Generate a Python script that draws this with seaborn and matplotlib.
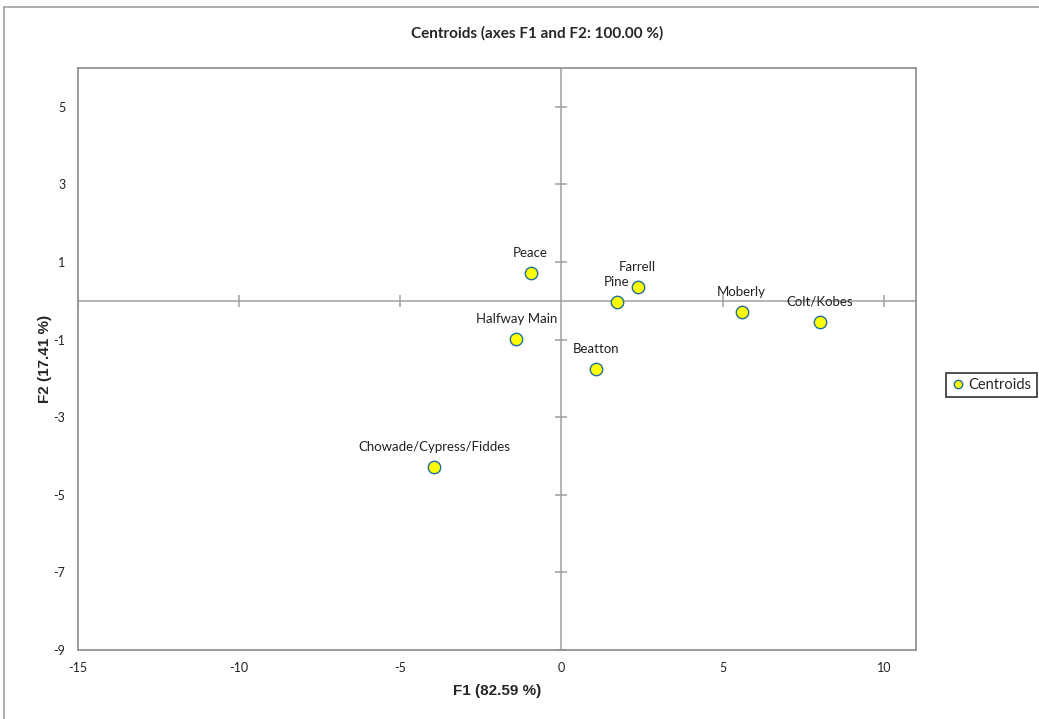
import matplotlib
matplotlib.use("Agg")
from matplotlib import pyplot as plt
from matplotlib.lines import Line2D
import seaborn as sns
import pandas as pd

# centroid coordinates
names = ["Peace", "Farrell", "Pine", "Moberly", "Colt/Kobes",
         "Halfway Main", "Beatton", "Chowade/Cypress/Fiddes"]
f1 = [-0.96, 2.36, 1.71, 5.59, 8.01, -1.40, 1.06, -3.94]
f2 = [0.72, 0.36, -0.03, -0.28, -0.54, -0.98, -1.75, -4.28]

x_ticks = [-15, -10, -5, 0, 5, 10]
y_ticks = [-9, -7, -5, -3, -1, 1, 3, 5]

df = pd.DataFrame({"name": names, "F1": f1, "F2": f2})

sns.set_style("white")
plt.rcParams["font.family"] = ["Lato", "DejaVu Sans"]
plt.rcParams["axes.unicode_minus"] = False

fig = plt.figure(figsize=(10.39, 7.19), dpi=100)
ax = fig.add_axes([0.0751, 0.096, 0.8065, 0.8094])

# axis lines through the origin
ax.axhline(0, color="#a0a0a0", lw=1.1, zorder=1)
ax.axvline(0, color="#a0a0a0", lw=1.1, zorder=1)
# little ticks on those lines
ax.plot([t for t in x_ticks if t != 0], [0] * (len(x_ticks) - 1), ls="none",
        marker="|", ms=9, mew=1.1, color="#a0a0a0", zorder=1)
ax.plot([0] * len(y_ticks), y_ticks, ls="none",
        marker="_", ms=9, mew=1.1, color="#a0a0a0", zorder=1)

sns.scatterplot(data=df, x="F1", y="F2", ax=ax, s=80, color="#ffff00",
                edgecolor="#1f6f9a", linewidth=1.0, zorder=3, legend=False)

for n, x, y in zip(names, f1, f2):
    ax.annotate(n, (x, y), xytext=(0, 14.5), textcoords="offset points",
                ha="center", va="center", fontsize=9.5, color="#222222")

ax.set_xlim(-15, 11)
ax.set_ylim(-9, 6)
ax.set_xticks(x_ticks)
ax.set_yticks(y_ticks)
ax.tick_params(length=0, labelsize=9, colors="#222222", pad=9)
for s in ax.spines.values():
    s.set_color("#8c8c8c")
    s.set_linewidth(1.2)

ax.set_xlabel("F1 (82.59 %)", fontsize=11, fontweight="bold",
              family=["Liberation Sans", "DejaVu Sans"], labelpad=7)
ax.set_ylabel("F2 (17.41 %)", fontsize=11, fontweight="bold",
              family=["Liberation Sans", "DejaVu Sans"], labelpad=1)

fig.text(0.517, 0.954, "Centroids (axes F1 and F2: 100.00 %)", ha="center",
         va="center", fontsize=11, fontweight="bold")

handle = Line2D([], [], ls="none", marker="o", ms=6, mfc="#ffff00",
                mec="#1f6f9a", mew=1.0)
leg = fig.legend([handle], ["Centroids"], loc="center",
                 bbox_to_anchor=(0.954, 0.464), fontsize=10.5, frameon=True,
                 fancybox=False, handletextpad=0.2, handlelength=1.0,
                 borderpad=0.35, borderaxespad=0)
leg.get_frame().set_edgecolor("black")
leg.get_frame().set_linewidth(1.2)

# outer chart frame (top and left edges visible)
fig.add_artist(Line2D([0.004, 1.0], [0.99, 0.99], color="#a0a0a0", lw=1.2))
fig.add_artist(Line2D([0.004, 0.004], [0.0, 0.99], color="#a0a0a0", lw=1.2))

fig.savefig("out.png", dpi=100)
